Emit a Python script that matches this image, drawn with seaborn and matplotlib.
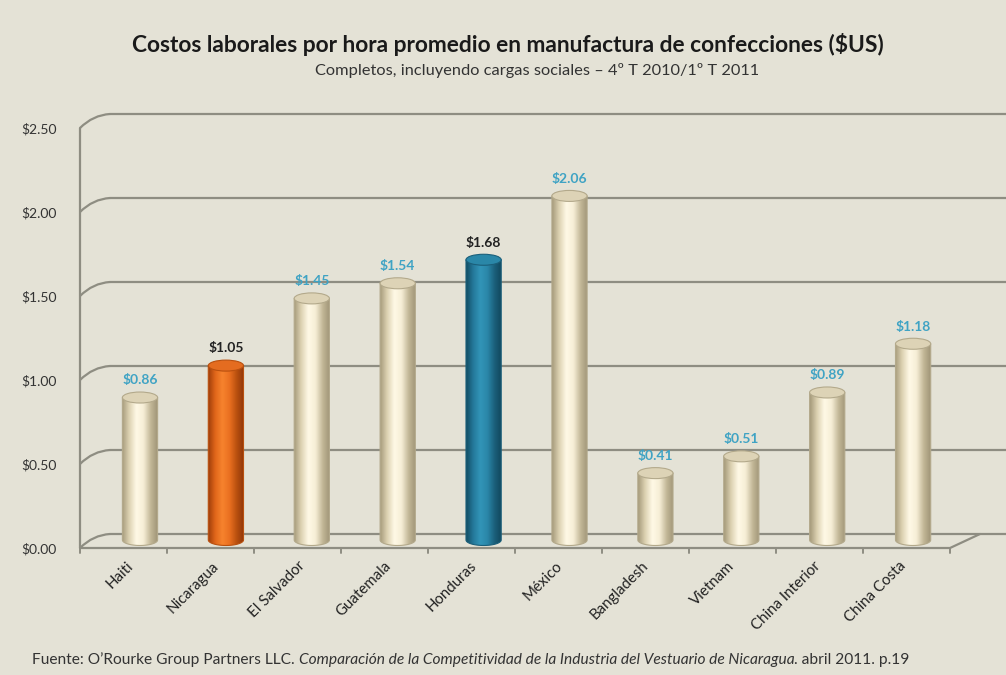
import numpy as np
import pandas as pd
import matplotlib
matplotlib.use("Agg")
import matplotlib.pyplot as plt
import matplotlib.transforms as mtransforms
from matplotlib.path import Path
from matplotlib.patches import PathPatch, Ellipse
from matplotlib.colors import LinearSegmentedColormap
import seaborn as sns

# ---- data ----
countries = ["Haiti", "Nicaragua", "El Salvador", "Guatemala", "Honduras",
             "México", "Bangladesh", "Vietnam", "China Interior", "China Costa"]
costs = [0.86, 1.05, 1.45, 1.54, 1.68, 2.06, 0.41, 0.51, 0.89, 1.18]
styles = ["cream", "orange", "cream", "cream", "teal",
          "cream", "cream", "cream", "cream", "cream"]
ytick_values = [0.0, 0.5, 1.0, 1.5, 2.0, 2.5]
ytick_labels = ["$0.00", "$0.50", "$1.00", "$1.50", "$2.00", "$2.50"]

title = "Costos laborales por hora promedio en manufactura de confecciones ($US)"
subtitle = "Completos, incluyendo cargas sociales – 4º T 2010/1º T 2011"
source_parts = [
    ("Fuente: O’Rourke Group Partners LLC. ", "normal"),
    ("Comparación de la Competitividad de la Industria del Vestuario de Nicaragua", "italic"),
    (". abril 2011. p.19", "normal"),
]

# ---- styling ----
BG = "#e4e2d6"
GRID = "#8e8d82"
FONT = "Lato"
shades = {
    "cream": ["#a59a7b", "#ddd2b2", "#fff9e6", "#f6eed6", "#c2b797", "#9e9476"],
    "orange": ["#9c3c0a", "#e0661a", "#f7832e", "#ea7020", "#b9500f", "#8f360a"],
    "teal": ["#124d63", "#24789a", "#3295b8", "#2a86a8", "#1b5f7a", "#10465b"],
}
tops = {"cream": "#ddd3b6", "orange": "#e46c20", "teal": "#2a87a8"}
rims = {"cream": "#b3a98b", "orange": "#b9500f", "teal": "#1b5f7a"}
label_colors = {"cream": "#3fa3c4", "orange": "#222222", "teal": "#222222"}

sns.set_theme(style="white")
plt.rcParams["font.family"] = [FONT, "DejaVu Sans"]

W, H = 1006, 675
fig = plt.figure(figsize=(W / 100, H / 100), dpi=100, facecolor=BG)

# plot area in pixels (front plane)
x_left, x_right, y_bot, y_top = 80, 980, 548, 128
ax = fig.add_axes([x_left / W, 1 - y_bot / H, (x_right - x_left) / W, (y_bot - y_top) / H])
ax.set_facecolor("none")
ax.patch.set_alpha(0)
for s in ax.spines.values():
    s.set_visible(False)

step_px = 85.9
first_center_px = 140
xl = -(first_center_px - x_left) / step_px
xr = (x_right - first_center_px) / step_px

df = pd.DataFrame({"country": countries, "cost": costs, "style": styles})
pal = {c: tops[s] for c, s in zip(countries, styles)}
sns.barplot(data=df, x="country", y="cost", hue="country", palette=pal,
            width=0.41, legend=False, ax=ax, saturation=1, zorder=3)
ax.set_xlim(xl, xr)
ax.set_ylim(0, 2.5)

# depth offsets (pixels): back wall and the middle plane where the bars stand
dx, dy = 30, 14
back = mtransforms.offset_copy(ax.transData, fig=fig, x=dx * 0.72, y=dy * 0.72, units="points")
mid = mtransforms.offset_copy(ax.transData, fig=fig, x=0, y=6 * 0.72, units="points")
for v in ytick_values:
    ax.plot([xl, xr], [v, v], color=GRID, lw=1.6, transform=back, clip_on=False, zorder=1)
    # curved connector from the front axis to the back wall
    x0, y0 = ax.transData.transform((xl, v))
    verts = [(x0, y0), (x0 + 13, y0 + 13), (x0 + dx, y0 + dy)]
    p = Path(verts, [Path.MOVETO, Path.CURVE3, Path.CURVE3])
    fig.patches.append(PathPatch(p, transform=None, fill=False, edgecolor=GRID, lw=1.6, zorder=1))

# front axis, floor line and tick marks
ax.plot([xl, xl], [0, 2.5], color=GRID, lw=1.6, clip_on=False, zorder=2)
fx0, fy0 = ax.transData.transform((xl, 0))
fxr = fx0 + (x_right - x_left) - dx
fig.lines.append(plt.Line2D([fx0, fxr, fxr + dx], [fy0, fy0, fy0 + dy], color=GRID, lw=1.6, transform=None))
for k in range(len(countries) + 1):
    tx = fx0 + k * (fxr - fx0) / len(countries)
    fig.lines.append(plt.Line2D([tx, tx], [fy0, fy0 - 5], color=GRID, lw=1.4, transform=None))

# cylinder shading for each bar
ell_px = 11
ell_h = ell_px * (2.5 / (y_bot - y_top))
for patch, style, val in zip(ax.patches, styles, costs):
    x = patch.get_x()
    w = patch.get_width()
    cmap = LinearSegmentedColormap.from_list(style, shades[style])
    # outline: rectangle with rounded bottom
    t = np.linspace(np.pi, 2 * np.pi, 40)
    bx = x + w / 2 + (w / 2) * np.cos(t)
    by = 0.012 + (ell_h / 2) * np.sin(t)
    verts = [(x, val)] + list(zip(bx, by)) + [(x + w, val), (x, val)]
    body = Path(verts, closed=True)
    clip = PathPatch(body, transform=mid, facecolor="none", edgecolor=rims[style],
                     lw=0.8, zorder=3.5)
    ax.add_patch(clip)
    grad = np.linspace(0, 1, 256).reshape(1, -1)
    im = ax.imshow(grad, cmap=cmap, aspect="auto", extent=(x, x + w, -ell_h, val),
                   zorder=3, interpolation="bicubic", transform=mid)
    im.set_clip_path(clip)
    patch.set_visible(False)
    ax.add_patch(Ellipse((x + w / 2, val), w, ell_h, facecolor=tops[style],
                         edgecolor=rims[style], lw=0.8, zorder=4, transform=mid))
    ax.annotate(f"${val:.2f}", (x + w / 2, val), xycoords=mid, xytext=(0, 8),
                textcoords="offset points", ha="center", va="bottom", fontsize=10,
                fontweight="bold", color=label_colors[style], zorder=5)
ax.set_xlim(xl, xr)
ax.set_ylim(0, 2.5)

# axis labels
ax.set_yticks(ytick_values)
ax.set_yticklabels(ytick_labels, fontsize=10, color="#333333")
ax.tick_params(axis="y", length=0, pad=17)
ax.set_xticks(range(len(countries)))
ax.set_xticklabels([])
ax.tick_params(axis="x", length=0)
cat_tr = mtransforms.offset_copy(ax.transData, fig=fig, x=-14 * 0.72, y=-11 * 0.72, units="points")
for i, name in enumerate(countries):
    ax.text(i, 0, name, transform=cat_tr, rotation=45, ha="right", va="top",
            rotation_mode="anchor", fontsize=10.8, color="#222222", clip_on=False)
ax.set_xlabel("")
ax.set_ylabel("")

# titles
fig.text(508 / W, 1 - 44 / H, title, ha="center", va="center", fontsize=16.4,
         fontweight="bold", color="#1a1a1a")
fig.text(537 / W, 1 - 70 / H, subtitle, ha="center", va="center", fontsize=11.8, color="#333333")

# source line built from regular and italic pieces
fig.canvas.draw()
renderer = fig.canvas.get_renderer()
xpos = 32
for txt, st in source_parts:
    t_ = fig.text(xpos / W, 1 - 660 / H, txt, ha="left", va="center", fontsize=11.2,
                  style=st, color="#333333")
    xpos += t_.get_window_extent(renderer).width

fig.savefig("out.png", dpi=100, facecolor=BG)
